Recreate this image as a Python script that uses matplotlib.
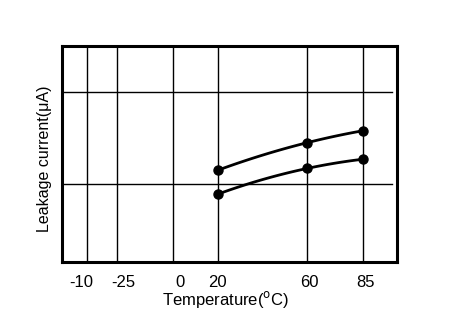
import numpy as np
import matplotlib
matplotlib.use("Agg")
import matplotlib.pyplot as plt

plt.rcParams['font.family'] = ['Liberation Sans', 'DejaVu Sans']

# gridline positions on the temperature scale, and where the printed labels sit
grid_pos = [-38.4, -25, 0, 20, 60, 85]
label_pos = [-41, -22, 3, 20, 61, 86]
tick_labels = ["-10", "-25", "0", "20", "60", "85"]
hgrid = [1.0, 2.0]

# measured points (temperature, leakage current in grid units)
temps = [20, 60, 85]
upper = [1.15, 1.45, 1.58]
lower = [0.89, 1.17, 1.27]

fig = plt.figure(figsize=(4.64, 3.25), dpi=100)
ax = fig.add_axes([0.1336, 0.1938, 0.722, 0.6646])

for x in grid_pos:
    ax.axvline(x, color="black", lw=1.0, zorder=1)
for y in hgrid:
    ax.axhline(y, xmax=0.985, color="black", lw=1.0, zorder=1)

# smooth curve through the three points of each series
xs = np.linspace(temps[0], temps[-1], 100)
for ys in (upper, lower):
    coef = np.polyfit(temps, ys, 2)
    ax.plot(xs, np.polyval(coef, xs), color="black", lw=2.0, zorder=3)
    ax.plot(temps, ys, "o", color="black", ms=6.5, zorder=4)

ax.set_xlim(-49.6, 100)
ax.set_ylim(0.152, 2.5)
ax.set_xticks(label_pos)
ax.set_xticklabels(tick_labels)
ax.set_yticks([])
ax.tick_params(axis="x", length=0, pad=9, labelsize=12)
for s in ax.spines.values():
    s.set_linewidth(2.2)

ax.set_xlabel("Temperature($^{\\rm o}$C)", fontsize=12)
ax.xaxis.set_label_coords(0.487, -0.125)
ax.set_ylabel("Leakage current(μA)", fontsize=11.5)
ax.yaxis.set_label_coords(-0.03, 0.48)

fig.savefig("out.png", dpi=100)
